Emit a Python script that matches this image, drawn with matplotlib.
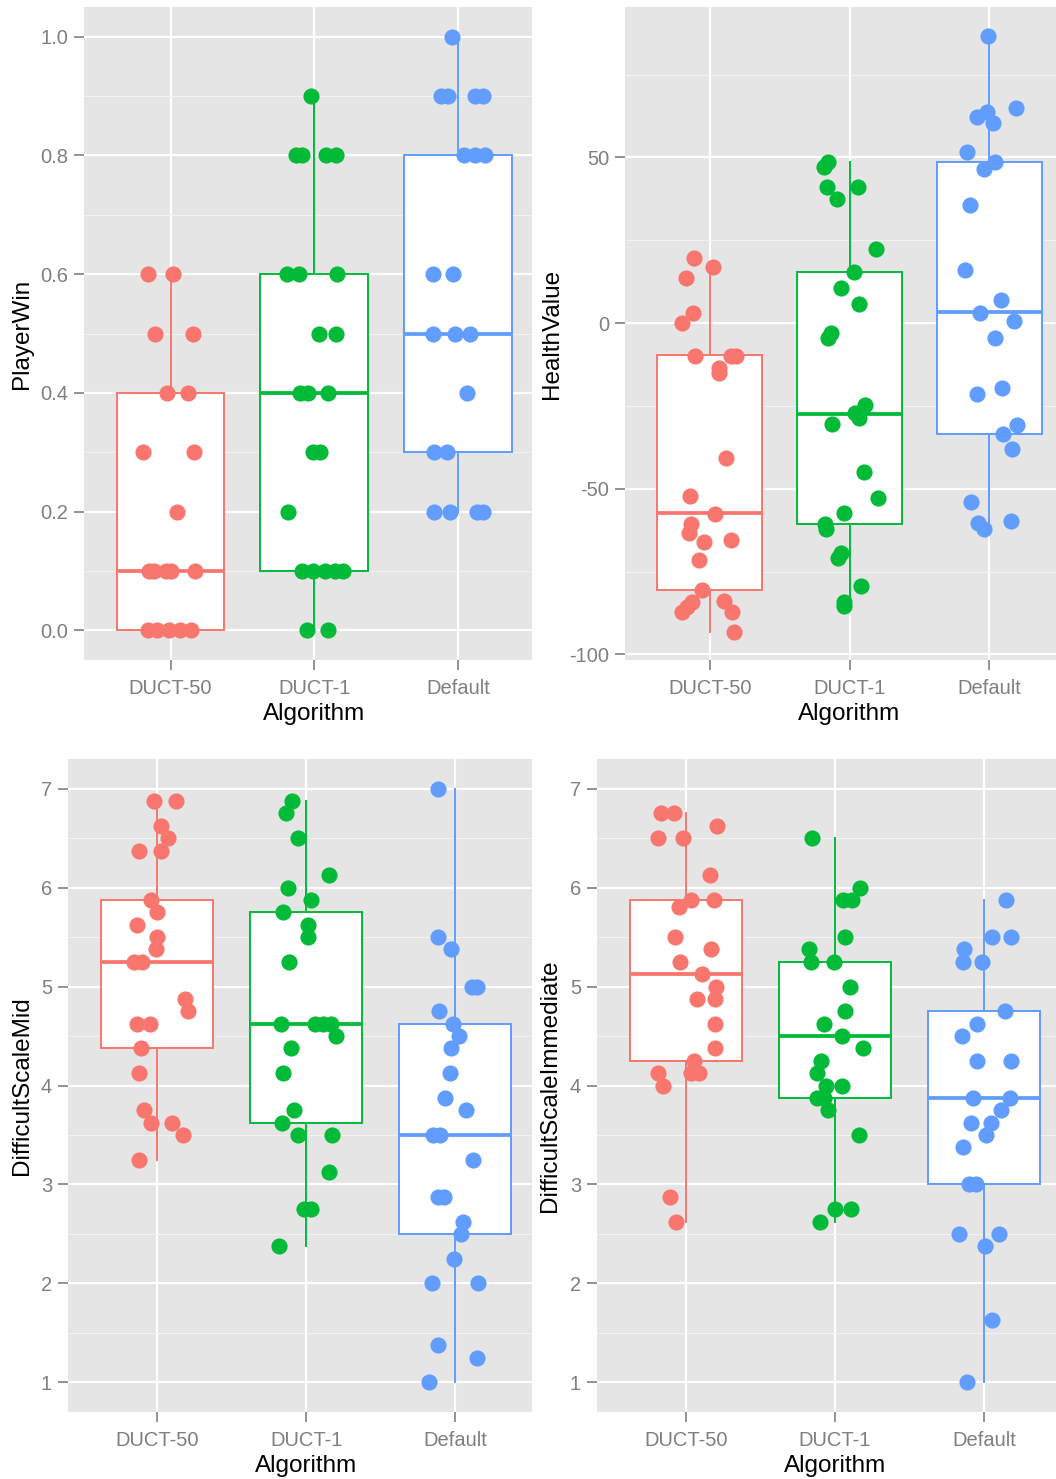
import matplotlib
matplotlib.use('Agg')

import matplotlib.pyplot as plt

plt.rcParams['font.family'] = ['Liberation Sans', 'DejaVu Sans']

W, H = 1056, 1479

algorithms = ['DUCT-50', 'DUCT-1', 'Default']
palette = ['#F8766D', '#00BA38', '#619CFF']

# PlayerWin: values and horizontal jitter (category units)
win_duct50 = [0.6, 0.6, 0.5, 0.5, 0.4, 0.4, 0.3, 0.3, 0.2,
              0.1, 0.1, 0.1, 0.1, 0.1, 0.0, 0.0, 0.0, 0.0, 0.0]
win_duct50_jit = [-0.16, 0.02, -0.11, 0.155, -0.024, 0.122, -0.193, 0.165, 0.047,
                  -0.153, -0.118, -0.035, 0.0, 0.172, -0.16, -0.094, -0.012, 0.064, 0.141]
win_duct1 = [0.9, 0.8, 0.8, 0.8, 0.8, 0.6, 0.6, 0.6, 0.5, 0.5, 0.4, 0.4, 0.4,
             0.3, 0.3, 0.2, 0.1, 0.1, 0.1, 0.1, 0.1, 0.0, 0.0]
win_duct1_jit = [-0.026, -0.127, -0.085, 0.078, 0.15, -0.193, -0.104, 0.155, 0.033, 0.15,
                 -0.099, -0.045, 0.096, -0.01, 0.038, -0.181, -0.085, -0.01, 0.073, 0.143,
                 0.2, -0.052, 0.092]
win_default = [1.0, 0.9, 0.9, 0.9, 0.9, 0.8, 0.8, 0.8, 0.6, 0.6, 0.5, 0.5, 0.5,
               0.4, 0.3, 0.3, 0.2, 0.2, 0.2, 0.2]
win_default_jit = [-0.042, -0.118, -0.07, 0.118, 0.176, 0.04, 0.118, 0.188, -0.176, -0.035,
                   -0.176, -0.024, 0.082, 0.064, -0.165, -0.075, -0.165, -0.059, 0.13, 0.176]
# (whisker low, q1, median, q3, whisker high)
win_box = [(0.0, 0.0, 0.1, 0.4, 0.6), (0.0, 0.1, 0.4, 0.6, 0.9), (0.2, 0.3, 0.5, 0.8, 1.0)]

# HealthValue
hp_duct50 = [19.5, 16.9, 13.6, 3.1, 0.1, -9.8, -9.8, -9.8, -13.5, -15.0, -40.8, -52.2,
             -57.6, -60.6, -63.5, -65.5, -66.2, -71.5, -80.7, -84.1, -85.7, -87.1,
             -83.9, -87.1, -93.2]
hp_duct50_jit = [-0.113, 0.022, -0.168, -0.12, -0.202, -0.106, 0.152, 0.188, 0.063, 0.063,
                 0.116, -0.14, 0.034, -0.135, -0.147, 0.152, -0.043, -0.075, -0.053, -0.125,
                 -0.161, -0.197, 0.103, 0.159, 0.176]
hp_duct1 = [47.2, 48.5, 41.1, 41.1, 37.3, 22.3, 15.4, 10.6, 5.8, -2.9, -4.4, -24.8, -27.1,
            -28.8, -30.6, -45.1, -52.9, -57.4, -60.5, -62.1, -69.3, -71.0, -79.4, -84.1, -85.4]
hp_duct1_jit = [-0.183, -0.154, -0.164, 0.063, -0.091, 0.19, 0.029, -0.058, 0.07, -0.13,
                -0.154, 0.113, 0.041, 0.065, -0.128, 0.101, 0.202, -0.039, -0.176, -0.171,
                -0.063, -0.079, 0.082, -0.039, -0.039]
hp_default = [86.5, 64.9, 62.1, 63.8, 60.5, 51.5, 48.5, 46.5, 35.6, 16.1, 6.9, 3.0, 0.5,
              -4.4, -19.5, -21.3, -30.8, -33.6, -38.1, -53.9, -60.3, -62.1, -59.6]
hp_default_jit = [-0.01, 0.193, -0.091, -0.014, 0.024, -0.156, 0.041, -0.036, -0.14, -0.171,
                  0.084, -0.067, 0.178, 0.041, 0.089, -0.091, 0.197, 0.101, 0.166, -0.128,
                  -0.079, -0.036, 0.154]
hp_box = [(-93.2, -80.7, -57.4, -9.6, 16.9), (-85.4, -60.5, -27.3, 15.4, 48.5),
          (-62.1, -33.4, 3.3, 48.5, 86.5)]

# DifficultScaleMid
mid_duct50 = [6.875, 6.875, 6.625, 6.5, 6.375, 6.375, 5.875, 5.75, 5.625, 5.5, 5.375, 5.25,
              5.25, 4.875, 4.75, 4.625, 4.625, 4.375, 4.125, 3.75, 3.625, 3.625, 3.5, 3.25]
mid_duct50_jit = [-0.023, 0.129, 0.023, 0.073, -0.125, 0.023, -0.041, 0.0, -0.136, 0.0,
                  -0.005, -0.154, -0.102, 0.186, 0.204, -0.136, -0.045, -0.109, -0.125,
                  -0.091, -0.039, 0.098, 0.17, -0.125]
mid_duct1 = [6.875, 6.75, 6.5, 6.125, 6.0, 5.875, 5.75, 5.625, 5.5, 5.25, 4.625, 4.625,
             4.625, 4.625, 4.5, 4.375, 4.125, 3.75, 3.625, 3.5, 3.5, 3.125, 2.75, 2.75, 2.375]
mid_duct1_jit = [-0.098, -0.136, -0.057, 0.152, -0.12, 0.03, -0.152, 0.011, 0.011, -0.118,
                 -0.17, 0.057, 0.114, 0.17, 0.2, -0.102, -0.157, -0.084, -0.159, -0.057,
                 0.177, 0.154, -0.011, 0.03, -0.182]
mid_default = [7.0, 5.5, 5.375, 5.0, 5.0, 4.75, 4.625, 4.5, 4.375, 4.125, 3.875, 3.75, 3.5,
               3.5, 3.25, 2.875, 2.875, 2.625, 2.5, 2.25, 2.0, 2.0, 1.375, 1.25, 1.0]
mid_default_jit = [-0.111, -0.116, -0.03, 0.111, 0.145, -0.109, -0.014, 0.025, -0.025,
                   -0.036, -0.07, 0.073, -0.15, -0.1, 0.123, -0.116, -0.077, 0.054, 0.039,
                   -0.007, -0.154, 0.157, -0.111, 0.145, -0.173]
mid_box = [(3.25, 4.375, 5.25, 5.875, 6.875), (2.375, 3.625, 4.625, 5.75, 6.875),
           (1.0, 2.5, 3.5, 4.625, 7.0)]

# DifficultScaleImmediate
imm_duct50 = [6.75, 6.75, 6.625, 6.5, 6.5, 6.125, 5.875, 5.8, 5.875, 5.5, 5.375, 5.25,
              5.125, 5.0, 4.875, 4.875, 4.625, 4.375, 4.25, 4.125, 4.125, 4.125, 4.0,
              2.875, 2.625]
imm_duct50_jit = [-0.169, -0.079, 0.207, -0.187, -0.023, 0.158, 0.034, -0.045, 0.187,
                  -0.074, 0.169, -0.041, 0.108, 0.198, 0.072, 0.191, 0.191, 0.191, 0.056,
                  0.034, 0.09, -0.187, -0.153, -0.106, -0.068]
imm_duct1 = [6.5, 6.0, 5.875, 5.875, 5.5, 5.375, 5.25, 5.25, 5.0, 4.75, 4.625, 4.5, 4.375,
             4.25, 4.125, 4.0, 4.0, 3.875, 3.875, 3.75, 3.5, 2.75, 2.75, 2.625]
imm_duct1_jit = [-0.155, 0.171, 0.054, 0.115, 0.065, -0.173, -0.16, -0.009, 0.104, 0.07,
                 -0.072, 0.047, 0.189, -0.095, -0.122, -0.061, 0.047, -0.122, -0.077,
                 -0.05, 0.16, -0.002, 0.108, -0.099]
imm_default = [5.875, 5.5, 5.5, 5.375, 5.25, 5.25, 4.75, 4.625, 4.5, 4.25, 4.25, 3.875,
               3.875, 3.75, 3.625, 3.625, 3.5, 3.375, 3.0, 3.0, 2.5, 2.5, 2.375, 1.625, 1.0]
imm_default_jit = [0.146, 0.056, 0.18, -0.135, -0.142, -0.011, 0.14, -0.047, -0.149,
                   -0.045, 0.18, -0.07, 0.173, 0.113, -0.086, 0.045, 0.011, -0.142, -0.097,
                   -0.052, -0.164, 0.101, 0.009, 0.054, -0.113]
imm_box = [(2.625, 4.25, 5.125, 5.875, 6.75), (2.625, 3.875, 4.5, 5.25, 6.5),
           (1.0, 3.0, 3.875, 4.75, 5.875)]

GREY_BG = '#E5E5E5'
TICK_GREY = '#7F7F7F'


def add_axes_px(fig, left, top, right, bottom):
    return fig.add_axes([left / W, 1 - bottom / H, (right - left) / W, (bottom - top) / H])


def ax_height_px(ax):
    return ax.get_position().height * H


def draw_panel(ax, groups, jitters, boxes, xlim, ylim, yticks, yminor, ylabels,
               ylabel, ylabel_x):
    ax.set_facecolor(GREY_BG)
    for s in ax.spines.values():
        s.set_visible(False)

    stats = [dict(whislo=b[0], q1=b[1], med=b[2], q3=b[3], whishi=b[4]) for b in boxes]
    art = ax.bxp(stats, positions=[1, 2, 3], widths=0.75, showfliers=False,
                 showcaps=False, patch_artist=True, manage_ticks=False)
    for i, c in enumerate(palette):
        art['boxes'][i].set(facecolor='white', edgecolor=c, linewidth=1.4, zorder=2)
        art['medians'][i].set(color=c, linewidth=2.7, zorder=2.5, solid_capstyle='butt')
        for w in art['whiskers'][2 * i:2 * i + 2]:
            w.set(color=c, linewidth=1.4, zorder=1.9)

    for i, (vals, jit) in enumerate(zip(groups, jitters)):
        xs = [i + 1 + j for j in jit]
        ax.scatter(xs, vals, s=135, color=palette[i], linewidths=0, zorder=3)

    ax.set_xlim(*xlim)
    ax.set_ylim(*ylim)
    ax.set_xticks([1, 2, 3])
    ax.set_xticklabels(algorithms)
    ax.set_yticks(yticks)
    ax.set_yticklabels(ylabels)
    ax.set_yticks(yminor, minor=True)

    ax.set_axisbelow(True)
    ax.grid(which='major', color='white', linewidth=1.6)
    ax.grid(which='minor', axis='y', color='#F2F2F2', linewidth=0.8)

    ax.tick_params(which='major', length=7.5, width=1.2, color=TICK_GREY,
                   labelcolor=TICK_GREY, labelsize=14.5)
    ax.tick_params(axis='x', pad=6.5)
    ax.tick_params(axis='y', pad=4)
    ax.tick_params(which='minor', length=0)

    ax.set_xlabel('Algorithm', fontsize=17.5, color='black')
    ax.xaxis.label.set_va('baseline')
    xfrac = (2 - xlim[0]) / (xlim[1] - xlim[0])
    ax.xaxis.set_label_coords(xfrac, -60 / ax_height_px(ax))

    ax.set_ylabel(ylabel, fontsize=17.5, color='black')
    ax.yaxis.label.set_va('center')
    ax.yaxis.set_label_coords(ylabel_x, 0.5)


fig = plt.figure(figsize=(W / 100, H / 100), dpi=100)

# panels: pixel boxes (left, top, right, bottom)
ax1 = add_axes_px(fig, 84, 7, 532, 660)
draw_panel(ax1, [win_duct50, win_duct1, win_default],
           [win_duct50_jit, win_duct1_jit, win_default_jit], win_box,
           (0.398, 3.514), (-0.05, 1.05),
           [0.0, 0.2, 0.4, 0.6, 0.8, 1.0], [0.1, 0.3, 0.5, 0.7, 0.9],
           ['0.0', '0.2', '0.4', '0.6', '0.8', '1.0'],
           'PlayerWin', (22 - 84) / (532 - 84))

ax3 = add_axes_px(fig, 68, 759, 532, 1412)
draw_panel(ax3, [mid_duct50, mid_duct1, mid_default],
           [mid_duct50_jit, mid_duct1_jit, mid_default_jit], mid_box,
           (0.401, 3.517), (0.7, 7.3),
           [1, 2, 3, 4, 5, 6, 7], [1.5, 2.5, 3.5, 4.5, 5.5, 6.5],
           ['1', '2', '3', '4', '5', '6', '7'],
           'DifficultScaleMid', (22 - 68) / (532 - 68))

# right-hand panels sit on a white margin over the left panels' edge
cover = fig.add_axes([532 / W, 0, (W - 532) / W, 1])
cover.set_axis_off()
cover.add_patch(plt.Rectangle((0, 0), 1, 1, color='white', transform=cover.transAxes))

ax2 = add_axes_px(fig, 625, 7, 1056, 660)
draw_panel(ax2, [hp_duct50, hp_duct1, hp_default],
           [hp_duct50_jit, hp_duct1_jit, hp_default_jit], hp_box,
           (0.393, 3.478), (-101.7, 95.4),
           [-100, -50, 0, 50], [-75, -25, 25, 75],
           ['-100', '-50', '0', '50'],
           'HealthValue', (552 - 625) / (1056 - 625))

ax4 = add_axes_px(fig, 597, 759, 1056, 1412)
draw_panel(ax4, [imm_duct50, imm_duct1, imm_default],
           [imm_duct50_jit, imm_duct1_jit, imm_default_jit], imm_box,
           (0.402, 3.484), (0.7, 7.3),
           [1, 2, 3, 4, 5, 6, 7], [1.5, 2.5, 3.5, 4.5, 5.5, 6.5],
           ['1', '2', '3', '4', '5', '6', '7'],
           'DifficultScaleImmediate', (550 - 597) / (1056 - 597))

fig.savefig('out.png', dpi=100)
plt.close(fig)
